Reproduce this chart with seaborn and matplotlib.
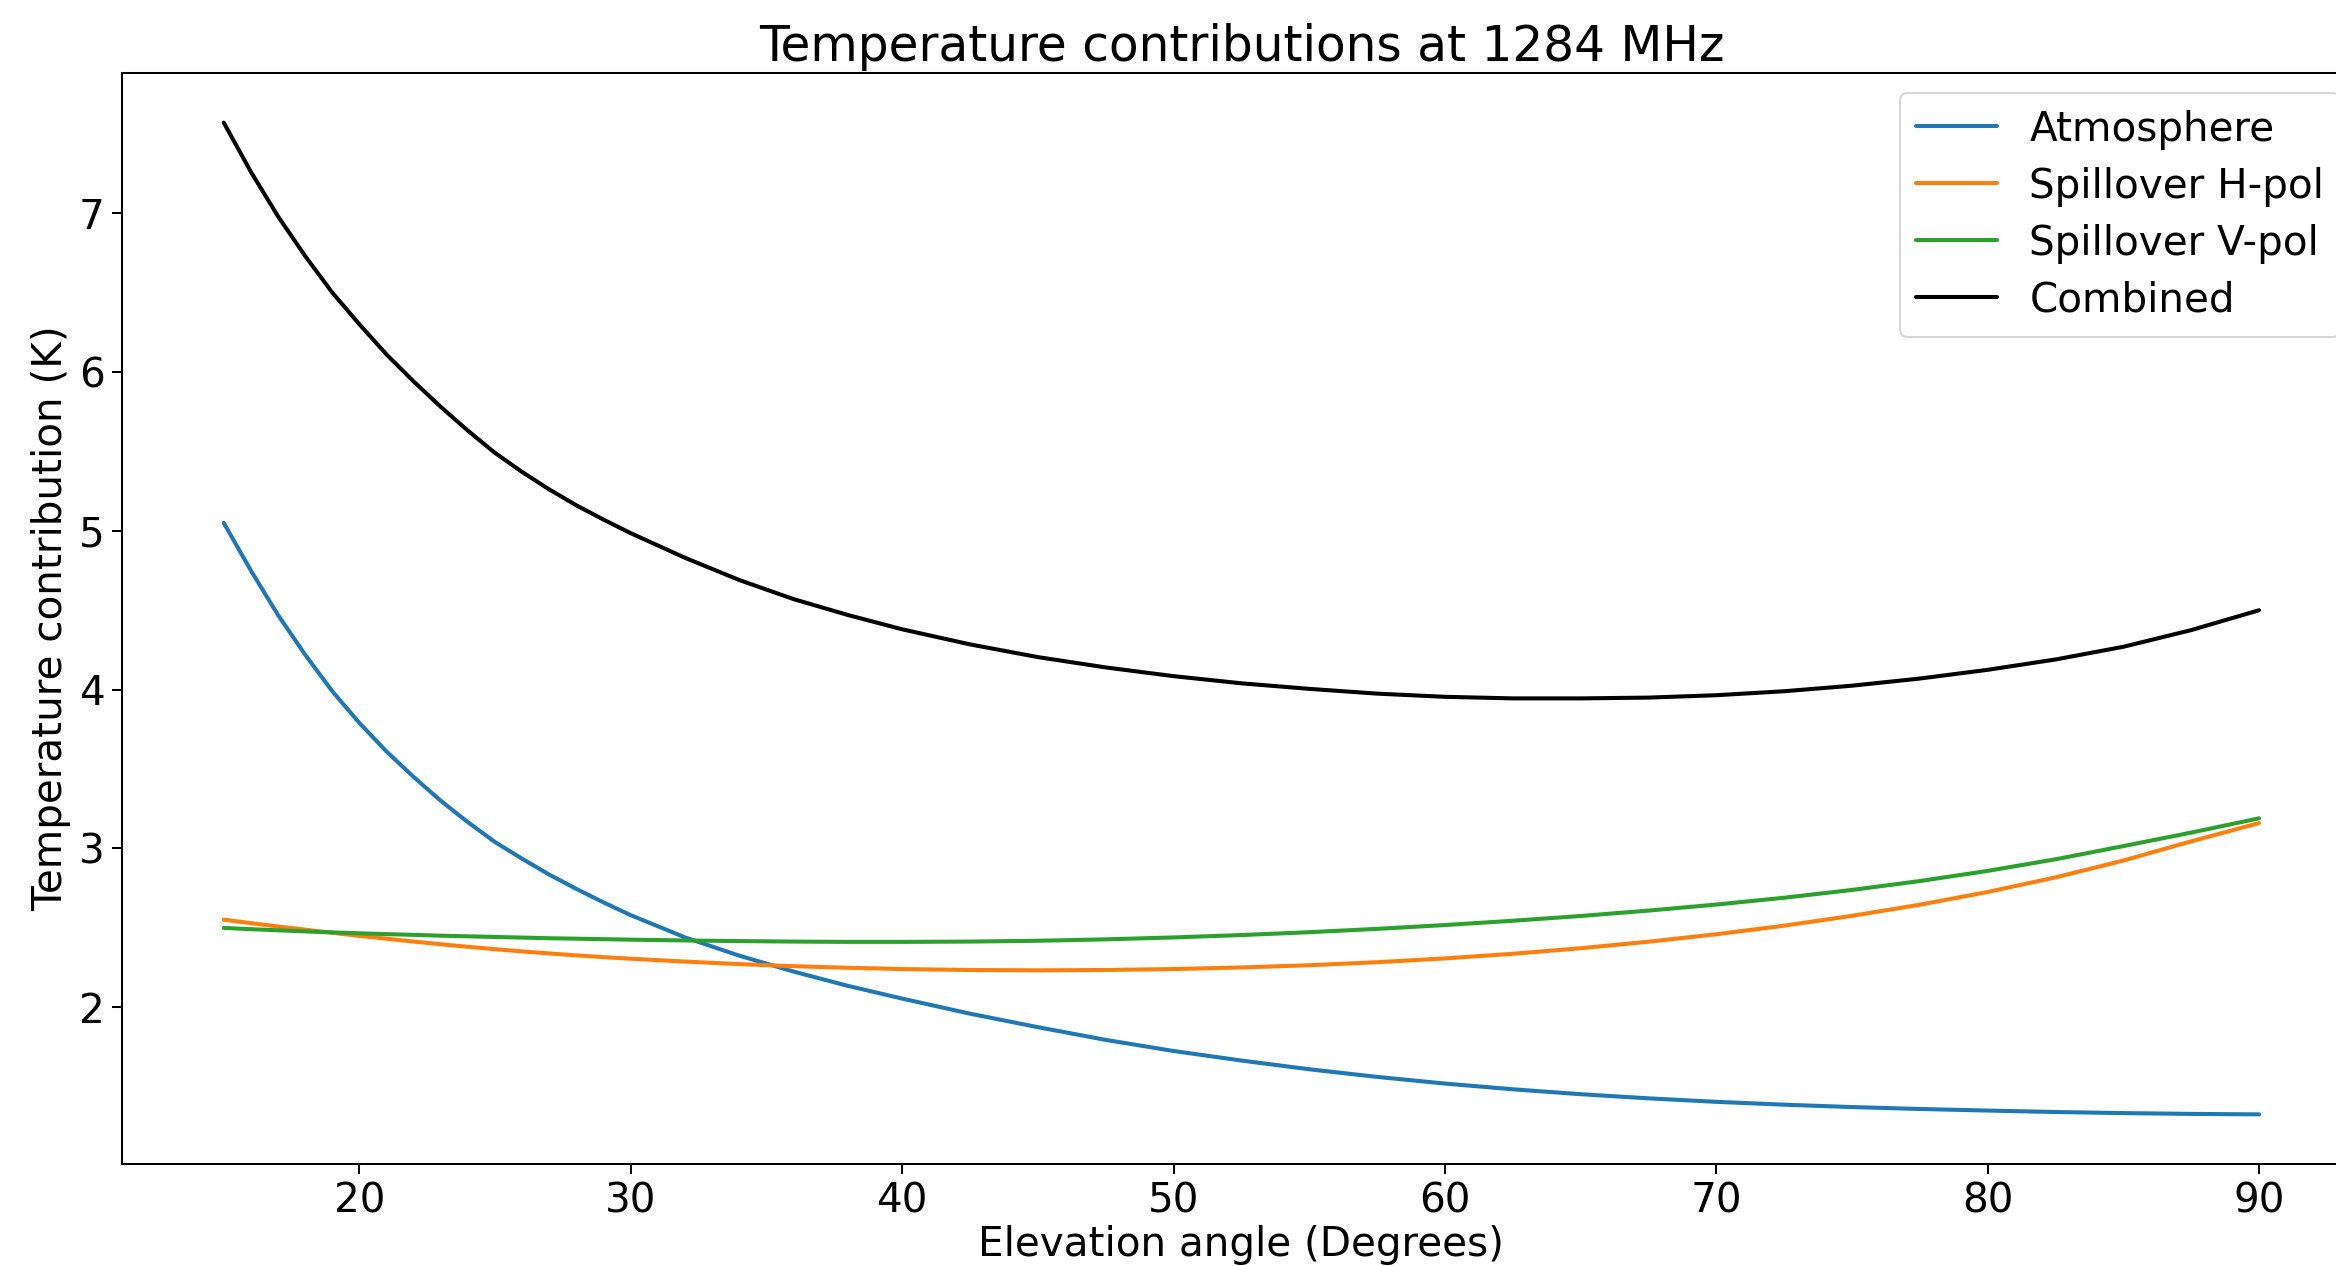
import matplotlib
matplotlib.use('Agg')
import matplotlib.pyplot as plt
import seaborn as sns
import pandas as pd

# values (K)
elevation = [15, 16, 17, 18, 19, 20, 21, 22, 23, 24, 25, 26, 27, 28, 29, 30,
             32, 34, 36, 38, 40, 42.5, 45, 47.5, 50, 52.5, 55, 57.5, 60,
             62.5, 65, 67.5, 70, 72.5, 75, 77.5, 80, 82.5, 85, 87.5, 90]
atmosphere = [5.05, 4.75, 4.47, 4.22, 3.99, 3.79, 3.61, 3.45, 3.30, 3.165,
              3.04, 2.935, 2.835, 2.745, 2.66, 2.58, 2.44, 2.325, 2.225, 2.135,
              2.055, 1.96, 1.875, 1.795, 1.725, 1.665, 1.61, 1.562, 1.52,
              1.484, 1.453, 1.427, 1.405, 1.387, 1.372, 1.36, 1.35, 1.341,
              1.334, 1.329, 1.326]
spill_h = [2.552, 2.53, 2.509, 2.489, 2.469, 2.45, 2.432, 2.414, 2.397, 2.381,
           2.366, 2.352, 2.339, 2.327, 2.316, 2.306, 2.288, 2.272, 2.259, 2.249,
           2.241, 2.235, 2.233, 2.235, 2.241, 2.251, 2.265, 2.284, 2.308,
           2.337, 2.372, 2.413, 2.46, 2.514, 2.576, 2.646, 2.726, 2.818,
           2.924, 3.045, 3.16]
spill_v = [2.50, 2.492, 2.485, 2.478, 2.472, 2.466, 2.461, 2.456, 2.451, 2.447,
           2.443, 2.439, 2.435, 2.432, 2.429, 2.426, 2.421, 2.417, 2.414, 2.412,
           2.412, 2.414, 2.419, 2.428, 2.44, 2.455, 2.473, 2.494, 2.518,
           2.545, 2.575, 2.609, 2.647, 2.69, 2.739, 2.795, 2.859, 2.932,
           3.015, 3.10, 3.19]
combined = [7.57, 7.26, 6.98, 6.73, 6.50, 6.30, 6.11, 5.94, 5.78, 5.63,
            5.49, 5.37, 5.26, 5.16, 5.07, 4.985, 4.83, 4.69, 4.57, 4.47,
            4.38, 4.285, 4.205, 4.14, 4.085, 4.04, 4.005, 3.975, 3.955,
            3.945, 3.945, 3.95, 3.965, 3.99, 4.025, 4.07, 4.125, 4.19,
            4.27, 4.375, 4.50]

series = {
    'Atmosphere': (atmosphere, '#1f77b4'),
    'Spillover H-pol': (spill_h, '#ff7f0e'),
    'Spillover V-pol': (spill_v, '#2ca02c'),
    'Combined': (combined, 'k'),
}

sns.set_style('white')
plt.rcParams['font.family'] = ['DejaVu Sans']
plt.rc('text', color='black')
plt.rc('xtick', labelsize=20, color='black', direction='out')
plt.rc('ytick', labelsize=20, color='black', direction='out')
plt.rc('axes', labelsize=20, titlesize=24, linewidth=1.0,
       edgecolor='black', labelcolor='black')
plt.rc('legend', fontsize=20, labelspacing=0.42)

fig = plt.figure(figsize=(16, 1266 / 146.06), dpi=146.06)
ax = fig.add_axes([0.0522, 0.0806, 0.958, 0.8617])

for name, (vals, col) in series.items():
    df = pd.DataFrame({'elevation': elevation, 'temp': vals})
    sns.lineplot(data=df, x='elevation', y='temp', color=col, label=name,
                 linewidth=2.0, ax=ax)

ax.tick_params(bottom=True, left=True, length=5, width=1)
ax.set_xlabel('Elevation angle (Degrees)', labelpad=2)
ax.set_ylabel('Temperature contribution (K)')
ax.set_title('Temperature contributions at 1284 MHz')
ax.legend(loc='upper right')

fig.savefig('out.png', dpi=146.06)
